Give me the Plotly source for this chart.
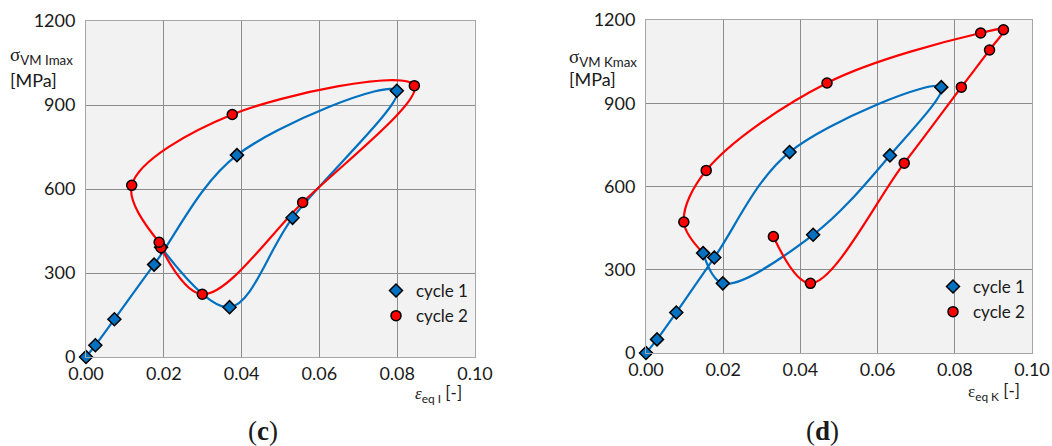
import plotly.graph_objects as go

# ---- panel (c): node I ----
c1_strain = [0.0, 0.0024, 0.0073, 0.0175, 0.0388, 0.0799, 0.0531, 0.0369, 0.0193]
c1_stress = [0, 42, 135, 330, 721, 951, 497, 178, 392]
c2_strain = [0.0193, 0.0299, 0.0557, 0.0844, 0.0376, 0.01175, 0.0188]
c2_stress = [390, 224, 552, 969, 866, 613, 410]

# ---- panel (d): node K ----
d1_strain = [0.0, 0.00285, 0.00785, 0.0177, 0.0372, 0.0765, 0.0632, 0.0433, 0.0199, 0.0148]
d1_stress = [0, 49, 146, 344, 724, 958, 712, 426, 251, 360]
d2_strain = [0.0098, 0.0156, 0.0469, 0.0867, 0.0926, 0.0890, 0.0817, 0.0669, 0.0426, 0.0330]
d2_stress = [472, 658, 973, 1153, 1165, 1092, 958, 684, 251, 420]

x_ticks = [0.0, 0.02, 0.04, 0.06, 0.08, 0.10]
y_ticks = [0, 300, 600, 900, 1200]

BLUE = "#0070C0"
RED = "#FF0000"
FONT = "Lato"
TXT = "#1a1a1a"
W, H = 1052, 446

fig = go.Figure()


def add_panel(xa, ya, legend, s1x, s1y, s2x, s2y, s2_line_x, s2_line_y):
    # smoothed curves
    fig.add_trace(go.Scatter(x=s1x, y=s1y, mode="lines", xaxis=xa, yaxis=ya,
                             line=dict(color=BLUE, width=2.2, shape="spline", smoothing=1.0),
                             showlegend=False, hoverinfo="skip"))
    fig.add_trace(go.Scatter(x=s2_line_x, y=s2_line_y, mode="lines", xaxis=xa, yaxis=ya,
                             line=dict(color=RED, width=2.2, shape="spline", smoothing=1.0),
                             showlegend=False, hoverinfo="skip"))
    # data points
    fig.add_trace(go.Scatter(x=s1x, y=s1y, mode="markers", xaxis=xa, yaxis=ya,
                             name="cycle 1", legend=legend, cliponaxis=False,
                             marker=dict(symbol="diamond", size=10, color=BLUE,
                                         line=dict(color="black", width=1.5))))
    fig.add_trace(go.Scatter(x=s2x, y=s2y, mode="markers", xaxis=xa, yaxis=ya,
                             name="cycle 2", legend=legend, cliponaxis=False,
                             marker=dict(symbol="circle", size=10, color=RED,
                                         line=dict(color="black", width=1.5))))


add_panel("x", "y", "legend", c1_strain, c1_stress, c2_strain, c2_stress,
          c2_strain, c2_stress)
# cycle 2 of node K continues from the last point of cycle 1
add_panel("x2", "y2", "legend2", d1_strain, d1_stress, d2_strain, d2_stress,
          [d1_strain[-1]] + d2_strain, [d1_stress[-1]] + d2_stress)

axis_common = dict(showgrid=True, gridcolor="#8c8c8c", gridwidth=1,
                   showline=True, linecolor="#a6a6a6", linewidth=1, mirror=True,
                   zeroline=False, ticks="", automargin=False,
                   tickfont=dict(family=FONT, size=18, color=TXT))

fig.update_layout(
    width=W, height=H,
    margin=dict(l=0, r=0, t=0, b=0, autoexpand=False),
    paper_bgcolor="white",
    plot_bgcolor="#f2f2f2",
    font=dict(family=FONT, size=17, color=TXT),
    xaxis=dict(domain=[86 / W, 475 / W], range=[0, 0.1], tickvals=x_ticks,
               tickformat=".2f", anchor="y", ticklabelstandoff=0, **axis_common),
    yaxis=dict(domain=[1 - 357 / H, 1 - 21 / H], range=[0, 1200], tickvals=y_ticks,
               anchor="x", ticklabelstandoff=6, **axis_common),
    xaxis2=dict(domain=[646 / W, 1032 / W], range=[0, 0.1], tickvals=x_ticks,
                tickformat=".2f", anchor="y2", ticklabelstandoff=0, **axis_common),
    yaxis2=dict(domain=[1 - 353 / H, 1 - 20 / H], range=[0, 1200], tickvals=y_ticks,
                anchor="x2", ticklabelstandoff=6, **axis_common),
    legend=dict(x=376 / W, y=1 - 273 / H, xanchor="left", yanchor="top",
                bgcolor="rgba(0,0,0,0)", font=dict(family=FONT, size=17, color=TXT),
                tracegroupgap=0),
    legend2=dict(x=933 / W, y=1 - 269 / H, xanchor="left", yanchor="top",
                 bgcolor="rgba(0,0,0,0)", font=dict(family=FONT, size=17, color=TXT),
                 tracegroupgap=0),
)

SIG = "<span style='font-family:Liberation Serif'>σ</span>"
EPS = "<span style='font-family:Liberation Serif'><i>ε</i></span>"
EPS_U = "<span style='font-family:Liberation Serif'>ε</span>"


def ann(text, x, y, xanchor, size=17, family=FONT):
    fig.add_annotation(text=text, x=x / W, y=1 - y / H, xref="paper", yref="paper",
                       xanchor=xanchor, yanchor="middle", showarrow=False,
                       font=dict(family=family, size=size, color=TXT))


ann(SIG + "<sub>VM Imax</sub>", 8, 56, "left", size=19)
ann("[MPa]", 8, 80, "left", size=18)
ann(SIG + "<sub>VM Kmax</sub>", 567, 58, "left", size=19)
ann("[MPa]", 567, 79, "left", size=18)
ann(EPS + "<sub>eq I</sub> [-]", 464, 394, "right")
ann(EPS_U + "<sub>eq K</sub> [-]", 1022, 392, "right")
ann("(<b>c</b>)", 263, 431, "center", size=27, family="Liberation Serif")
ann("(<b>d</b>)", 822, 431, "center", size=27, family="Liberation Serif")

fig.write_html("out.html")
